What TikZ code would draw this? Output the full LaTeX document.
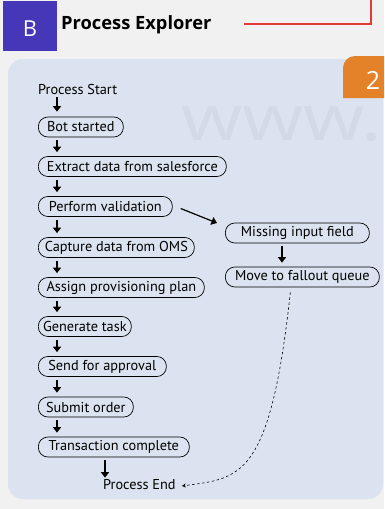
\documentclass[tikz,border=0pt]{standalone}
\usepackage{fontspec}
\setmainfont{PT Sans}
\newfontfamily\headfont{Open Sans}
\usetikzlibrary{arrows.meta}
\definecolor{bg}{HTML}{F1F1F1}
\definecolor{panel}{HTML}{DAE3EF}
\definecolor{wm}{HTML}{D1DAE6}
\definecolor{badgeB}{HTML}{4636B8}
\definecolor{badge2}{HTML}{E4822A}
\definecolor{redline}{HTML}{E53935}
\tikzset{
  flow/.style={draw=black, line width=0.7pt, rounded corners=9.5pt, minimum height=20pt,
    inner xsep=4pt, inner ysep=0pt, anchor=west, font=\fontsize{14.3}{16}\selectfont, text=black},
  plain/.style={inner sep=1pt, anchor=west, font=\fontsize{14.3}{16}\selectfont, text=black},
  arr/.style={line width=1.2pt, -{Triangle[length=5.5pt,width=8pt]}},
  dasharr/.style={line width=0.6pt, dash pattern=on 2.5pt off 2.5pt, -{Stealth[length=4pt,width=4pt]}},
}
\begin{document}
\begin{tikzpicture}[x=1pt,y=-1pt]
\useasboundingbox (0,0) rectangle (384,509);
\fill[bg] (0,0) rectangle (384,509);
% header
\fill[badgeB] (3,1) rectangle (57,51);
\node[text=white, font=\headfont\fontsize{22}{22}\selectfont] (blabel) at (30,28.5) {B};
\node[anchor=west, inner sep=0pt, font=\headfont\bfseries\fontsize{18.3}{20}\selectfont] (title) at (61,25) {Process Explorer};
\draw[redline, line width=1.3pt] (244,24) -- (371,24) -- (371,0);
% panel
\fill[panel, rounded corners=15pt] (8,59) rectangle (383,499);
\begin{scope}
\clip[rounded corners=15pt] (8,59) rectangle (383,499);
\node[anchor=base west, inner sep=0pt, text height=33pt, text depth=0pt, text=wm, font=\headfont\fontsize{63}{63}\selectfont] (wmark) at (181,140) {\scalebox{1.25}[1]{www.}};
\end{scope}
\fill[badge2] (384,56) -- (355,56) arc[start angle=90, end angle=180, radius=12pt] -- (343,98) -- (384,98) -- cycle;
\node[text=white, inner sep=0pt, font=\headfont\fontsize{25}{25}\selectfont] (two) at (373,80) {2};
% flow
\node[plain] (start) at (37,89) {Process Start};
\node[flow, minimum width=85pt] (bot) at (38,127) {Bot started};
\node[flow, minimum width=188pt] (ext) at (38,166.5) {Extract data from salesforce};
\node[flow, minimum width=134pt] (perf) at (38,206.5) {Perform validation};
\node[flow, minimum width=156pt] (cap) at (38,247.5) {Capture data from OMS};
\node[flow, minimum width=166pt] (assign) at (38,287.5) {Assign provisioning plan};
\node[flow, minimum width=93pt] (gen) at (38,326.5) {Generate task};
\node[flow, minimum width=128pt] (send) at (38,366.5) {Send for approval};
\node[flow, minimum width=95pt] (sub) at (38,407) {Submit order};
\node[flow, minimum width=151pt] (trans) at (38,447) {Transaction complete};
\node[plain] (pend) at (102,485) {Process End};
\node[flow, minimum width=144pt] (miss) at (225,233) {Missing input field};
\node[flow, minimum width=154pt] (move) at (225,277) {Move to fallout queue};
% arrows
\draw[arr] ([xshift=20pt,yshift=-2pt]start.south west) -- ([xshift=19pt,yshift=5pt]bot.north west);
\draw[arr] ([xshift=19pt,yshift=-3pt]bot.south west) -- ([xshift=19pt,yshift=4pt]ext.north west);
\draw[arr] ([xshift=19pt,yshift=-3pt]ext.south west) -- ([xshift=19pt,yshift=4pt]perf.north west);
\draw[arr] ([xshift=19pt,yshift=-3pt]perf.south west) -- ([xshift=19pt,yshift=4pt]cap.north west);
\draw[arr] ([xshift=19pt,yshift=-3pt]cap.south west) -- ([xshift=19pt,yshift=4pt]assign.north west);
\draw[arr] ([xshift=19pt,yshift=-3pt]assign.south west) -- ([xshift=19pt,yshift=4pt]gen.north west);
\draw[arr] ([xshift=19pt,yshift=-3pt]gen.south west) -- ([xshift=19pt,yshift=4pt]send.north west);
\draw[arr] ([xshift=19pt,yshift=-3pt]send.south west) -- ([xshift=19pt,yshift=4pt]sub.north west);
\draw[arr] ([xshift=19pt,yshift=-3pt]sub.south west) -- ([xshift=19pt,yshift=4pt]trans.north west);
\draw[arr] ([xshift=67pt,yshift=-3pt]trans.south west) -- ([xshift=3pt,yshift=1pt]pend.north west);
\draw[arr] ([xshift=57pt,yshift=-3pt]miss.south west) -- ([xshift=57pt,yshift=4pt]move.north west);
\draw[arr] ([xshift=8pt,yshift=-2pt]perf.east) -- ([xshift=-8pt,yshift=10pt]miss.west);
\draw[dasharr] ([xshift=-12pt,yshift=-5pt]move.south) .. controls (270,480) and (240,478) .. ([xshift=5pt,yshift=-1pt]pend.east);
\end{tikzpicture}
\end{document}
